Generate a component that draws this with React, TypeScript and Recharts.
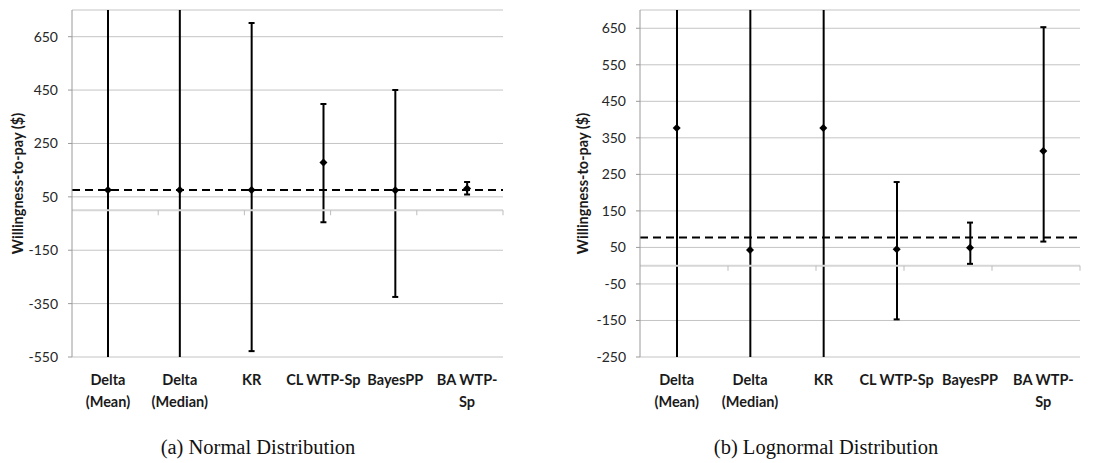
import { ComposedChart, Line, Bar, XAxis, YAxis, CartesianGrid, ReferenceLine } from 'recharts';

const categories = ['Delta (Mean)', 'Delta (Median)', 'KR', 'CL WTP-Sp', 'BayesPP', 'BA WTP-Sp'];
const categoryLines = [['Delta', '(Mean)'], ['Delta', '(Median)'], ['KR'], ['CL WTP-Sp'], ['BayesPP'], ['BA WTP-', 'Sp']];

// (a) normal distribution: estimate, lower and upper bound
const normalWtp = [76, 76, 76, 179, 75, 81];
const normalLow = [-2000, -2000, -528, -45, -325, 59];
const normalHigh = [2000, 2000, 701, 398, 450, 106];
const normalTrue = 76;
const normalTicks = [-550, -350, -150, 50, 250, 450, 650];

// (b) lognormal distribution
const lognormalWtp = [377, 43, 377, 45, 49, 314];
const lognormalLow = [-2000, -2000, -2000, -147, 5, 66];
const lognormalHigh = [2000, 2000, 2000, 229, 118, 653];
const lognormalTrue = 77;
const lognormalTicks = [-250, -150, -50, 50, 150, 250, 350, 450, 550, 650];

const edges = [1, 2, 3, 4, 5, 6];

const buildRows = (wtp: number[], low: number[], high: number[]) =>
  categories.map((name, i) => ({ name, wtp: wtp[i], low: low[i], high: high[i], range: [low[i], high[i]] }));

const FONT = 'Lato, Carlito, sans-serif';

const Diamond = (props: any) => {
  const { cx, cy } = props;
  if (cx == null || cy == null) return null;
  return <polygon points={`${cx},${cy - 4} ${cx + 4},${cy} ${cx},${cy + 4} ${cx - 4},${cy}`} fill="#000" />;
};

const Cap = (props: any) => {
  const { cx, cy } = props;
  if (cx == null || cy == null) return null;
  return <line x1={cx - 3} x2={cx + 3} y1={cy} y2={cy} stroke="#000" strokeWidth={2} />;
};

const CatTick = (props: any) => {
  const { x, y, index } = props;
  const lines = categoryLines[index] || [];
  return (
    <g>
      {lines.map((l, i) => (
        <text key={i} x={x} y={y + 28 + i * 22} textAnchor="middle" fontFamily={FONT} fontWeight="bold" fontSize={14.5} fill="#1a1a1a">{l}</text>
      ))}
    </g>
  );
};

const YTitle = (offset: number) => (props: any) => {
  const vb = props.viewBox;
  const cx = vb.x + offset;
  const cy = vb.y + vb.height / 2;
  return (
    <text x={cx} y={cy} transform={`rotate(-90 ${cx} ${cy})`} textAnchor="middle" dominantBaseline="central" fontFamily={FONT} fontWeight="bold" fontSize={14.5} fill="#1a1a1a">
      Willingness-to-pay ($)
    </text>
  );
};

const Panel = ({ rows, domain, ticks, truth, width, yWidth, labelOffset, tickLen }: any) => (
  <ComposedChart width={width} height={420} data={rows} margin={{ top: 10, right: 12, bottom: 0, left: 0 }}>
    <CartesianGrid vertical={false} stroke="#c4c4c4" />
    <XAxis xAxisId="cat" dataKey="name" scale="band" height={63} axisLine={false} tickLine={false} tickSize={0} tickMargin={0} tick={<CatTick />} interval={0} />
    <XAxis xAxisId="edge" type="number" domain={[0, 6]} hide />
    <YAxis
      type="number"
      domain={domain}
      ticks={ticks}
      allowDataOverflow
      width={yWidth}
      axisLine={{ stroke: '#9a9a9a' }}
      tickLine={{ stroke: '#9a9a9a' }}
      tickSize={4}
      tickMargin={10}
      tick={{ fontFamily: FONT, fontSize: 14, fill: '#262626' }}
      label={{ content: YTitle(labelOffset) } as any}
    />
    <ReferenceLine xAxisId="cat" y={0} stroke="#d6d6d6" strokeWidth={2} />
    {edges.map((e) => (
      <ReferenceLine key={e} xAxisId="edge" segment={[{ x: e, y: 0 }, { x: e, y: -tickLen }]} stroke="#bdbdbd" />
    ))}
    <ReferenceLine xAxisId="cat" y={truth} stroke="#000" strokeWidth={2} strokeDasharray="8 5" />
    <Bar xAxisId="cat" dataKey="range" barSize={2} fill="#000" isAnimationActive={false} />
    <Line xAxisId="cat" dataKey="high" stroke="none" dot={<Cap />} activeDot={false} isAnimationActive={false} />
    <Line xAxisId="cat" dataKey="low" stroke="none" dot={<Cap />} activeDot={false} isAnimationActive={false} />
    <Line xAxisId="cat" dataKey="wtp" stroke="none" dot={<Diamond />} activeDot={false} isAnimationActive={false} />
  </ComposedChart>
);

export default function App() {
  return (
    <div style={{ position: 'absolute', left: 0, top: 0, width: 1104, height: 463, background: '#fff', overflow: 'hidden' }}>
      <div style={{ position: 'absolute', left: 0, top: 0 }}>
        <Panel rows={buildRows(normalWtp, normalLow, normalHigh)} domain={[-550, 750]} ticks={normalTicks} truth={normalTrue} width={515} yWidth={72} labelOffset={17} tickLen={19} />
      </div>
      <div style={{ position: 'absolute', left: 560, top: 0 }}>
        <Panel rows={buildRows(lognormalWtp, lognormalLow, lognormalHigh)} domain={[-250, 700]} ticks={lognormalTicks} truth={lognormalTrue} width={532} yWidth={80} labelOffset={22} tickLen={14} />
      </div>
      <div style={{ position: 'absolute', left: 0, width: 516, top: 436, textAlign: 'center', fontFamily: '"Liberation Serif", serif', fontSize: 20.5, color: '#111' }}>
        (a) Normal Distribution
      </div>
      <div style={{ position: 'absolute', left: 560, width: 532, top: 436, textAlign: 'center', fontFamily: '"Liberation Serif", serif', fontSize: 20.5, color: '#111' }}>
        (b) Lognormal Distribution
      </div>
    </div>
  );
}
